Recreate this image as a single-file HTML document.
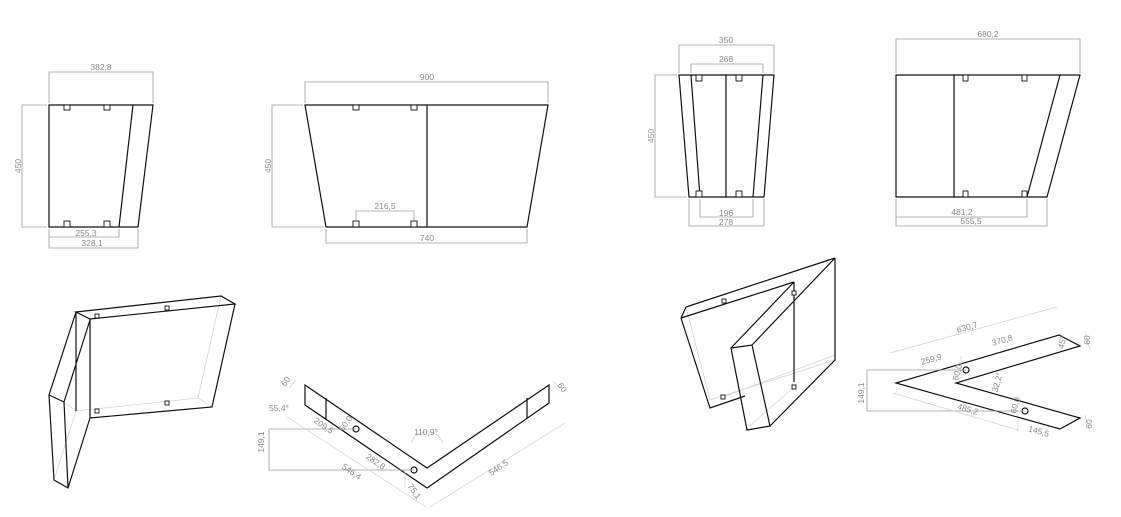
<!DOCTYPE html>
<html><head><meta charset="utf-8"><style>
html,body{margin:0;padding:0;background:#fff;}
svg{display:block}
text{font-family:"Liberation Sans",sans-serif;font-size:8.5px;fill:#8a8a8a;text-anchor:middle}
.k{stroke:#111;stroke-width:1.2;fill:none}
.t{stroke:#111;stroke-width:0.9;fill:#fff}
.d{stroke:#9a9a9a;stroke-width:0.8;fill:none}
.l{stroke:#cfcfcf;stroke-width:0.7;fill:none}
</style></head><body>
<svg width="1121" height="517" viewBox="0 0 1121 517" xmlns="http://www.w3.org/2000/svg">
<!-- View A -->
<path class="k" d="M49,105 H153 L138,227 H49 Z M133,105 L119,227"/>
<rect class="t" x="64" y="105" width="6" height="5"/><rect class="t" x="104" y="105" width="6" height="5"/>
<rect class="t" x="64" y="221" width="6" height="6"/><rect class="t" x="104" y="221" width="6" height="6"/>
<path class="d" d="M49,103 V72 H153 V103 M47,105 H22 V227 H47 M49,229 V237 H119 V229 M49,237 V248 H138 V229"/>
<text x="101" y="70">382,8</text>
<text transform="translate(21,166) rotate(-90)">450</text>
<text x="86" y="236">255,3</text>
<text x="92" y="246">328,1</text>
<!-- View B -->
<path class="k" d="M305,105 H548 L527,227 H326 Z M427,105 V227"/>
<rect class="t" x="353" y="105" width="6" height="5"/><rect class="t" x="411" y="105" width="6" height="5"/>
<rect class="t" x="353" y="221" width="6" height="6"/><rect class="t" x="411" y="221" width="6" height="6"/>
<path class="d" d="M305,103 V82 H548 V103 M303,105 H272 V227 H324 M356,220 V211 H414 V220 M326,229 V243 H527 V229"/>
<text x="427" y="80">900</text>
<text transform="translate(271,166) rotate(-90)">450</text>
<text x="385" y="209">216,5</text>
<text x="427" y="241">740</text>
<!-- View C -->
<path class="k" d="M679,75 H774 L764,197 H689 Z M691,75 L700,197 M763,75 L753,197 M726,75 V197"/>
<rect class="t" x="696" y="75" width="6" height="6"/><rect class="t" x="736" y="75" width="6" height="6"/>
<rect class="t" x="696" y="191" width="6" height="6"/><rect class="t" x="736" y="191" width="6" height="6"/>
<path class="d" d="M679,73 V45 H774 V73 M691,73 V64 H763 V73 M677,75 H655 V197 H687 M700,199 V217 H753 V199 M689,199 V226 H764 V199"/>
<text x="726" y="43">350</text><text x="726" y="62">268</text>
<text transform="translate(654,136) rotate(-90)">450</text>
<text x="726" y="216">196</text><text x="726" y="225">278</text>
<!-- View D -->
<path class="k" d="M896,75 H1080 L1047,197 H896 Z M1060,75 L1027,197 M954,75 V197"/>
<rect class="t" x="963" y="75" width="5" height="6"/><rect class="t" x="1022" y="75" width="5" height="6"/>
<rect class="t" x="963" y="191" width="5" height="6"/><rect class="t" x="1022" y="191" width="5" height="6"/>
<path class="d" d="M896,73 V39 H1080 V73 M896,199 V226 H1047 V199 M896,217 H1027 V199"/>
<text x="988" y="37">680,2</text>
<text x="962" y="215">481,2</text>
<text x="971" y="224">555,5</text>
<!-- Iso E -->
<path class="l" d="M76,411 L198,398 L212,407 M198,398 L221,296 M64,402 L76,411 M54,480 L76,411"/>
<path class="k" d="M76,312 L221,296 L235,304 L90,319 Z M235,304 L212,407 L90,418 V319 M76,312 V411 M76,312 L49,395 L54,480 L68,488 L90,418 M49,395 L64,402 L68,488 M64,402 L90,320"/>
<rect class="t" x="95" y="314" width="4" height="4"/><rect class="t" x="165" y="306" width="4" height="4"/>
<rect class="t" x="95" y="409" width="4" height="4"/><rect class="t" x="165" y="401" width="4" height="4"/>
<!-- V shape F -->
<path class="k" d="M305,385 L427,468 L549,385 V403 L427,488 L305,405 Z M326,398 V419 M527,398 V419"/>
<circle class="k" cx="356" cy="429" r="3"/><circle class="k" cx="414" cy="470" r="3"/>
<path class="d" d="M356,429 H269 V470 H414"/>
<path class="l" d="M287,417 L426,507 M430,507 L565,423 M296,380 L289,388 M405,470 V488 M411,443 A17,17 0 0 1 443,443 M553,381 L560,388"/>
<text transform="translate(288,383) rotate(-55)">60</text>
<text x="279" y="411">55,4°</text>
<text transform="translate(322,428) rotate(35)">209,5</text>
<text transform="translate(348,425) rotate(-55)">60,0</text>
<text x="426" y="435">110,9°</text>
<text transform="translate(374,464) rotate(35)">282,8</text>
<text transform="translate(350,474) rotate(35)">546,4</text>
<text transform="translate(264,442) rotate(-90)">149,1</text>
<text transform="translate(412,493) rotate(55)">75,1</text>
<text transform="translate(500,470) rotate(-35)">546,5</text>
<text transform="translate(560,389) rotate(55)">60</text>
<!-- Iso G -->
<path class="l" d="M686,307 L710,400 L835,360 M723,397 L835,355 M745,430 L794,387 M770,426 L745,430"/>
<path class="k" d="M686,307 L835,258 M681,318 L794,282 M681,318 L686,307 M681,318 L710,408 L745,396 M835,258 V360 L770,426 M794,282 V382 M731,348 L794,282 M752,345 L835,258 M731,348 L752,345 L770,426 L747,430 Z"/>
<rect class="t" x="722" y="299" width="4" height="4"/><rect class="t" x="792" y="291" width="4" height="4"/>
<rect class="t" x="721" y="395" width="4" height="4"/><rect class="t" x="792" y="385" width="4" height="4"/>
<!-- V shape H -->
<path class="k" d="M896,383 L1059,335 L1080,346 L956,383 L1080,418 L1060,429 Z"/>
<circle class="k" cx="966" cy="370" r="3"/><circle class="k" cx="1025" cy="411" r="3"/>
<path class="d" d="M966,370 H867 V411 H1025"/>
<path class="l" d="M890,353 L1057,307 M893,393 L1018,430 M961,356 V378 M1018,420 V432 M1085,333 L1090,350 M1085,415 L1090,432"/>
<text transform="translate(968,330) rotate(-16)">630,7</text>
<text transform="translate(1003,343) rotate(-16)">370,8</text>
<text transform="translate(932,362) rotate(-16)">259,9</text>
<text transform="translate(864,393) rotate(-90)">149,1</text>
<text transform="translate(967,412) rotate(16)">485,2</text>
<text transform="translate(1038,434) rotate(16)">145,5</text>
<text transform="translate(1090,340) rotate(-90)">60</text>
<text transform="translate(1092,424) rotate(-90)">60</text>
<text transform="translate(1065,343) rotate(-75)">45°</text>
<text transform="translate(1000,383) rotate(-75)">32,2°</text>
<text transform="translate(960,373) rotate(-75)">60,0</text>
<text transform="translate(1018,406) rotate(-75)">60,0</text>
</svg>
</body></html>
